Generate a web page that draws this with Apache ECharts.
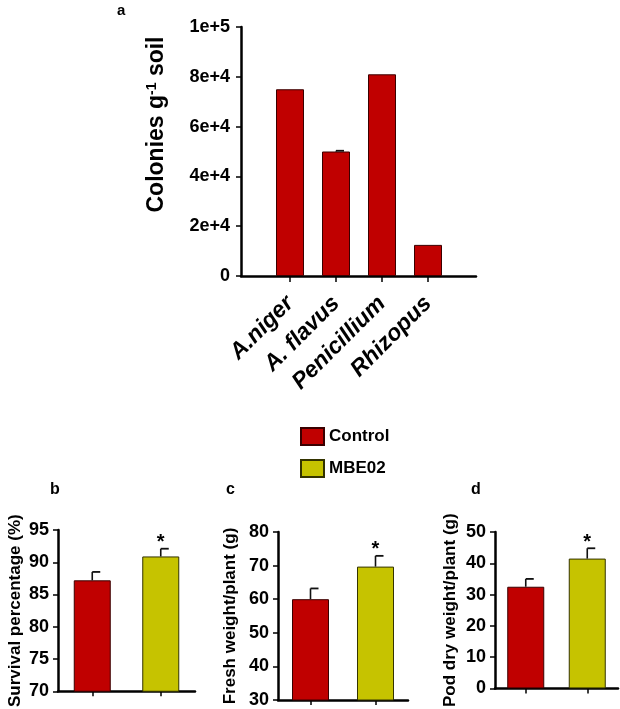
<!DOCTYPE html>
<html>
<head>
<meta charset="utf-8">
<script src="https://cdn.jsdelivr.net/npm/echarts@6/dist/echarts.min.js"></script>
<style>
html,body{margin:0;padding:0;background:#fff;}
#main{width:620px;height:709px;}
</style>
</head>
<body>
<div id="main"></div>
<script>
// ---- data ----
var fungi = ['A.niger', 'A. flavus', 'Penicillium', 'Rhizopus'];
var colonies = [75000, 50000, 81000, 12500];
var coloniesErr = [0, 300, 0, 0];
var coloniesTicks = ['0', '2e+4', '4e+4', '6e+4', '8e+4', '1e+5'];

var treatments = ['Control', 'MBE02'];
var survival = [87.2, 90.9];
var survivalErr = [1.3, 1.2];
var freshWeight = [60.0, 69.7];
var freshErr = [3.2, 3.2];
var podWeight = [32.5, 41.5];
var podErr = [2.5, 3.3];
var significant = [false, true];

// ---- style ----
var FONT = "'Liberation Sans', Arial, sans-serif";
var RED = '#c00000';
var YEL = '#c6c300';
var AXW = 2.5;

var chart = echarts.init(document.getElementById('main'), null, {renderer: 'canvas'});

function errSeries(xi, yi, vals, errs, stars) {
  var data = vals.map(function (v, i) { return [i, v, errs[i], stars ? (stars[i] ? 1 : 0) : 0]; });
  return {
    type: 'custom', xAxisIndex: xi, yAxisIndex: yi, z: 5, silent: true,
    data: data,
    renderItem: function (params, api) {
      var x = api.value(0), v = api.value(1), e = api.value(2), s = api.value(3);
      var p0 = api.coord([x, v]);
      var p1 = api.coord([x, v + e]);
      var children = [];
      if (e > 0) {
        children.push({type: 'line', shape: {x1: p0[0], y1: p0[1], x2: p1[0], y2: p1[1]}, style: {stroke: '#111', lineWidth: 1.6}});
        children.push({type: 'line', shape: {x1: p1[0], y1: p1[1], x2: p1[0] + 8, y2: p1[1]}, style: {stroke: '#111', lineWidth: 1.8}});
      }
      if (s) {
        children.push({type: 'text', x: p1[0], y: p1[1] + 4, style: {text: '*', fill: '#000', font: 'bold 20px ' + FONT, align: 'center', verticalAlign: 'bottom'}});
      }
      return {type: 'group', children: children};
    }
  };
}

function treatmentBars(xi, yi, vals) {
  return [
    {name: 'Control', type: 'bar', xAxisIndex: xi, yAxisIndex: yi, barWidth: 37, barGap: '-100%',
     data: [vals[0], '-'], itemStyle: {color: RED, borderColor: '#3a0000', borderWidth: 1}},
    {name: 'MBE02', type: 'bar', xAxisIndex: xi, yAxisIndex: yi, barWidth: 37, barGap: '-100%',
     data: ['-', vals[1]], itemStyle: {color: YEL, borderColor: '#333300', borderWidth: 1}}
  ];
}

var axisLineStyle = {show: true, lineStyle: {color: '#000', width: AXW}};
var tickLbl = {color: '#000', fontFamily: FONT, fontWeight: 'bold', fontSize: 18};
var nameStyle = {color: '#000', fontFamily: FONT, fontWeight: 'bold', fontSize: 17};

function subY(gi, min, max, interval, name, gap) {
  return {
    type: 'value', gridIndex: gi, min: min, max: max, interval: interval,
    axisLine: axisLineStyle, axisTick: {show: true, length: 5, lineStyle: {color: '#000', width: 1.5}},
    splitLine: {show: false}, axisLabel: Object.assign({margin: 9}, tickLbl),
    name: name, nameLocation: 'middle', nameRotate: 90, nameGap: gap, nameTextStyle: nameStyle
  };
}
function subX(gi) {
  return {
    type: 'category', gridIndex: gi, data: treatments,
    axisLine: axisLineStyle, axisTick: {show: true, alignWithLabel: true, length: 5, lineStyle: {color: '#000', width: 1.5}},
    axisLabel: {show: false}
  };
}

var option = {
  backgroundColor: '#fff',
  animation: false,
  title: [
    {text: 'a', left: 112, top: -2, textStyle: {fontFamily: FONT, fontWeight: 'bold', fontSize: 15, color: '#000'}},
    {text: 'b', left: 45, top: 477, textStyle: {fontFamily: FONT, fontWeight: 'bold', fontSize: 16, color: '#000'}},
    {text: 'c', left: 221, top: 477, textStyle: {fontFamily: FONT, fontWeight: 'bold', fontSize: 16, color: '#000'}},
    {text: 'd', left: 466, top: 477, textStyle: {fontFamily: FONT, fontWeight: 'bold', fontSize: 16, color: '#000'}}
  ],
  legend: {
    data: [{name: 'Control', icon: 'rect'}, {name: 'MBE02', icon: 'rect'}], orient: 'vertical', left: 295, top: 422,
    itemWidth: 23, itemHeight: 17, itemGap: 13, selectedMode: false,
    textStyle: {fontFamily: FONT, fontWeight: 'bold', fontSize: 17, color: '#000'}
  },
  grid: [
    {left: 267, width: 184, top: 27, bottom: 433},
    {left: 241, right: 144, top: 27, bottom: 433},
    {left: 58, right: 425, top: 530, bottom: 8},
    {left: 278, right: 212, top: 532, bottom: 9},
    {left: 495, right: 2, top: 532, bottom: 10}
  ],
  xAxis: [
    {type: 'category', gridIndex: 0, data: fungi,
     axisLine: {show: false},
     axisTick: {show: true, alignWithLabel: true, length: 6, lineStyle: {color: '#000', width: 1.5}},
     axisLabel: {rotate: 45, margin: 24, interval: 0, color: '#000', fontFamily: FONT, fontWeight: 'bold', fontStyle: 'italic', fontSize: 23}},
    {type: 'category', gridIndex: 1, data: [''], axisLine: axisLineStyle, axisTick: {show: false}, axisLabel: {show: false}},
    subX(2), subX(3), subX(4)
  ],
  yAxis: [
    {type: 'value', gridIndex: 0, min: 0, max: 100000, interval: 20000, offset: 26,
     axisLine: axisLineStyle, axisTick: {show: true, length: 5, lineStyle: {color: '#000', width: 1.5}},
     splitLine: {show: false},
     axisLabel: Object.assign({margin: 11, formatter: function (v) { return coloniesTicks[Math.round(v / 20000)]; }}, tickLbl),
     name: 'Colonies g{sup|-1} soil', nameLocation: 'middle', nameRotate: 90, nameGap: 72,
     nameTextStyle: {color: '#000', fontFamily: FONT, fontWeight: 'bold', fontSize: 23, padding: [0, 0, 0, 54],
       rich: {sup: {fontSize: 14, fontFamily: FONT, fontWeight: 'bold', color: '#000', verticalAlign: 'top', padding: [0, 0, 10, 0]}}}},
    {type: 'value', gridIndex: 1, show: false, min: 0, max: 1},
    subY(2, 70, 95, 5, 'Survival percentage (%)', 34),
    subY(3, 30, 80, 10, 'Fresh weight/plant (g)', 39),
    subY(4, 0, 50, 10, 'Pod dry weight/plant (g)', 36)
  ],
  series: [
    {name: 'Colonies', type: 'bar', xAxisIndex: 0, yAxisIndex: 0, barWidth: 28, data: colonies,
     itemStyle: {color: RED, borderColor: '#3a0000', borderWidth: 1}},
    errSeries(0, 0, colonies, coloniesErr, null)
  ]
  .concat(treatmentBars(2, 2, survival)).concat([errSeries(2, 2, survival, survivalErr, significant)])
  .concat(treatmentBars(3, 3, freshWeight)).concat([errSeries(3, 3, freshWeight, freshErr, significant)])
  .concat(treatmentBars(4, 4, podWeight)).concat([errSeries(4, 4, podWeight, podErr, significant)])
};
chart.setOption(option);
</script>
</body>
</html>
